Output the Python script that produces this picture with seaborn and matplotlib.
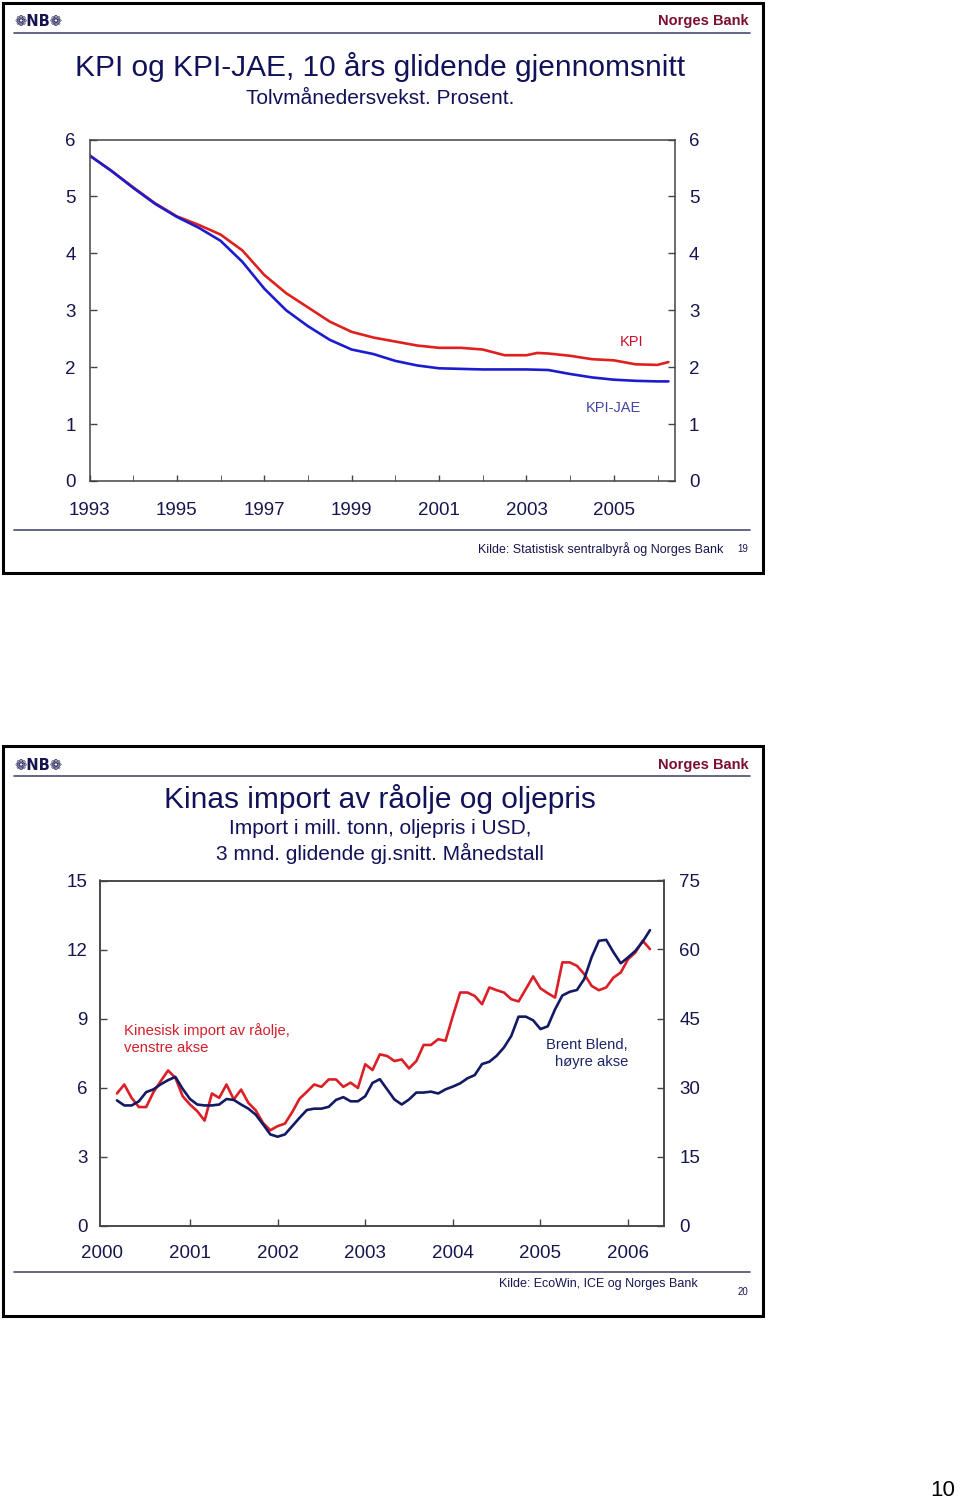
import numpy as np
import pandas as pd
import matplotlib
matplotlib.use("Agg")
import matplotlib.pyplot as plt
from matplotlib.patches import Rectangle
from matplotlib.lines import Line2D
import seaborn as sns

# ---------------- data: slide 19 (KPI, 10-yr moving average) ----------------
kpi_years = [1993.0, 1993.5, 1994.0, 1994.5, 1995.0, 1995.5, 1996.0, 1996.5, 1997.0,
             1997.5, 1998.0, 1998.5, 1999.0, 1999.5, 2000.0, 2000.5, 2001.0, 2001.5,
             2002.0, 2002.5, 2003.0, 2003.25, 2003.5, 2004.0, 2004.5, 2005.0, 2005.5,
             2006.0, 2006.25]
kpi_values = [5.72, 5.45, 5.16, 4.88, 4.65, 4.50, 4.33, 4.05, 3.62,
              3.30, 3.05, 2.80, 2.62, 2.52, 2.45, 2.38, 2.34, 2.34,
              2.31, 2.21, 2.21, 2.25, 2.24, 2.20, 2.14, 2.12, 2.05,
              2.04, 2.09]
jae_years = [1993.0, 1993.5, 1994.0, 1994.5, 1995.0, 1995.5, 1996.0, 1996.5, 1997.0,
             1997.5, 1998.0, 1998.5, 1999.0, 1999.5, 2000.0, 2000.5, 2001.0, 2001.5,
             2002.0, 2002.5, 2003.0, 2003.5, 2004.0, 2004.5, 2005.0, 2005.5,
             2006.0, 2006.25]
jae_values = [5.72, 5.45, 5.15, 4.87, 4.64, 4.45, 4.22, 3.85, 3.38,
              3.00, 2.72, 2.48, 2.31, 2.23, 2.11, 2.03, 1.98, 1.97,
              1.96, 1.96, 1.96, 1.95, 1.88, 1.82, 1.78, 1.76,
              1.75, 1.75]
kpi_year_labels = ["1993", "1995", "1997", "1999", "2001", "2003", "2005"]

# ---------------- data: slide 20 (China crude imports, Brent) ----------------
month_start, month_end = "2000-03", "2006-04"
import_values = [5.74, 6.13, 5.55, 5.15, 5.15, 5.80, 6.28, 6.74, 6.42, 5.62,
                 5.26, 4.97, 4.56, 5.74, 5.55, 6.13, 5.48, 5.91, 5.33, 5.01,
                 4.46, 4.14, 4.32, 4.43, 4.93, 5.51, 5.81, 6.13, 6.03, 6.35,
                 6.35, 6.03, 6.21, 5.98, 7.01, 6.76, 7.44, 7.37, 7.15, 7.22,
                 6.83, 7.15, 7.85, 7.85, 8.10, 8.03, 9.11, 10.13, 10.13, 9.98,
                 9.62, 10.35, 10.23, 10.13, 9.84, 9.74, 10.28, 10.83, 10.31, 10.10,
                 9.91, 11.44, 11.44, 11.29, 10.93, 10.42, 10.23, 10.35, 10.78, 11.00,
                 11.58, 11.87, 12.38, 12.02]
brent_values = [27.2, 26.1, 26.1, 27.0, 29.0, 29.6, 30.7, 31.6, 32.3, 29.7,
                27.5, 26.3, 26.1, 26.1, 26.3, 27.5, 27.3, 26.3, 25.4, 24.1,
                22.0, 19.8, 19.3, 19.8, 21.6, 23.4, 25.1, 25.4, 25.4, 25.8,
                27.3, 27.9, 27.0, 27.0, 28.1, 31.0, 31.8, 29.6, 27.4, 26.3,
                27.4, 28.9, 28.9, 29.1, 28.7, 29.6, 30.2, 30.9, 32.0, 32.7,
                35.1, 35.6, 36.9, 38.7, 41.2, 45.4, 45.4, 44.6, 42.7, 43.3,
                47.0, 50.0, 50.8, 51.2, 53.6, 58.3, 61.9, 62.1, 59.4, 57.0,
                58.3, 59.7, 61.7, 64.2]
oil_year_labels = ["2000", "2001", "2002", "2003", "2004", "2005", "2006"]

# ---------------- style ----------------
sns.set_style("white")
plt.rcParams["font.family"] = ["Liberation Sans", "DejaVu Sans"]

W, H = 960, 1501
NAVY = "#12125a"
TXT = "#16164f"
SPINE = "#444444"

fig = plt.figure(figsize=(W / 100, H / 100), dpi=100)


def fx(px):
    return px / W


def fy(py):
    return 1 - py / H


def add_axes_px(left, top, right, bottom):
    return fig.add_axes([fx(left), fy(bottom), (right - left) / W, (bottom - top) / H])


def style_axes(ax):
    for s in ax.spines.values():
        s.set_visible(True)
        s.set_color(SPINE)
        s.set_linewidth(1.1)
    ax.tick_params(direction="in", length=5, width=1.0, color=SPINE,
                   labelcolor=TXT, labelsize=13.5)


# ---------------- slide frames & decorations ----------------
def slide_frame(top, bottom, rule_top, rule_bottom):
    fig.patches.append(Rectangle((fx(2.5), fy(bottom)), (763 - 2.5) / W, (bottom - top) / H,
                                 transform=fig.transFigure, fill=False,
                                 edgecolor="black", linewidth=2.2))
    for ry in (rule_top, rule_bottom):
        fig.lines.append(Line2D([fx(14), fx(750)], [fy(ry), fy(ry)],
                                transform=fig.transFigure, color="#4a4a72", linewidth=1.2))


slide_frame(2.5, 573, 33, 530)
slide_frame(745.5, 1316, 776, 1272)

for hy in (21, 765):
    fig.text(fx(14), fy(hy), "\u2741NB\u2741", ha="left", va="center", fontsize=10.5,
             fontweight="bold", color=TXT, family=["DejaVu Sans"])
    fig.text(fx(749), fy(hy), "Norges Bank", ha="right", va="center", fontsize=10.5,
             fontweight="bold", color="#7a0f2e")

# ---------------- slide 19 ----------------
fig.text(fx(380), fy(67.5), "KPI og KPI-JAE, 10 års glidende gjennomsnitt",
         ha="center", va="center", fontsize=21.5, color=NAVY)
fig.text(fx(380), fy(98.5), "Tolvmånedersvekst. Prosent.",
         ha="center", va="center", fontsize=15, color=NAVY)

ax1 = add_axes_px(89.5, 139.5, 675, 481)
kpi_df = pd.DataFrame({"year": kpi_years, "value": kpi_values})
jae_df = pd.DataFrame({"year": jae_years, "value": jae_values})
sns.lineplot(data=kpi_df, x="year", y="value", ax=ax1, color="#e0201e", linewidth=1.9)
sns.lineplot(data=jae_df, x="year", y="value", ax=ax1, color="#1c1ccf", linewidth=1.9)
ax1.set_xlim(1993, 2006.4)
ax1.set_ylim(0, 6)
ax1.set_xlabel("")
ax1.set_ylabel("")
style_axes(ax1)
ax1.set_yticks(range(0, 7))
ax1.set_yticklabels([str(v) for v in range(0, 7)])
ax1.tick_params(axis="y", left=True, right=True, labelleft=True, labelright=True, pad=10)
ax1.set_xticks([int(y) for y in kpi_year_labels])
ax1.set_xticklabels(kpi_year_labels)
ax1.set_xticks(range(1993, 2007), minor=True)
ax1.tick_params(axis="x", which="both", bottom=True, pad=15, length=4,
                direction="in", color=SPINE)
ax1.text(2005.4, 2.45, "KPI", ha="center", va="center", fontsize=10.5, color="#c8102a")
ax1.text(2005.0, 1.28, "KPI-JAE", ha="center", va="center", fontsize=10.5, color="#4545a5")

fig.text(fx(723), fy(549), "Kilde: Statistisk sentralbyrå og Norges Bank",
         ha="right", va="center", fontsize=9, color=TXT)
fig.text(fx(743), fy(549), "19", ha="center", va="center", fontsize=7, color=TXT)

# ---------------- slide 20 ----------------
fig.text(fx(380), fy(798.5), "Kinas import av råolje og oljepris",
         ha="center", va="center", fontsize=21.5, color=NAVY)
fig.text(fx(380), fy(828), "Import i mill. tonn, oljepris i USD,",
         ha="center", va="center", fontsize=15, color=NAVY)
fig.text(fx(380), fy(853), "3 mnd. glidende gj.snitt. Månedstall",
         ha="center", va="center", fontsize=15, color=NAVY)

months = pd.period_range(month_start, month_end, freq="M")
month_x = months.year + (months.month - 1) / 12.0
oil_df = pd.DataFrame({"x": month_x, "imp": import_values, "brent": brent_values})

ax2 = add_axes_px(100, 880.5, 664, 1225.5)
sns.lineplot(data=oil_df, x="x", y="imp", ax=ax2, color="#dc1f26", linewidth=1.9)
ax2.set_xlim(1999.973, 2006.41)
ax2.set_ylim(0, 15)
ax2.set_xlabel("")
ax2.set_ylabel("")
style_axes(ax2)
ax2.set_yticks(range(0, 16, 3))
ax2.tick_params(axis="y", left=True, pad=9)
ax2.set_xticks([int(y) for y in oil_year_labels])
ax2.set_xticklabels(oil_year_labels)
ax2.tick_params(axis="x", bottom=True, pad=14, length=5, direction="in", color=SPINE)

ax2b = ax2.twinx()
sns.lineplot(data=oil_df, x="x", y="brent", ax=ax2b, color="#131a63", linewidth=1.9)
ax2b.set_ylim(0, 75)
ax2b.set_ylabel("")
style_axes(ax2b)
ax2b.set_yticks(range(0, 76, 15))
ax2b.tick_params(axis="y", right=True, pad=11)
ax2b.set_xlim(1999.973, 2006.41)

ax2.text(2000.245, 8.1, "Kinesisk import av råolje,\nvenstre akse", ha="left", va="center",
         fontsize=10.7, color="#d41f2a", linespacing=1.3)
ax2b.text(2006.0, 37.4, "Brent Blend,\nhøyre akse", ha="right", va="center",
          fontsize=10.6, color="#1c2466", linespacing=1.3, multialignment="right")

fig.text(fx(698), fy(1284), "Kilde: EcoWin, ICE og Norges Bank",
         ha="right", va="center", fontsize=9, color=TXT)
fig.text(fx(743), fy(1292), "20", ha="center", va="center", fontsize=7, color=TXT)

fig.text(fx(943), fy(1490), "10", ha="center", va="center", fontsize=16, color="black")

# hide the 2000 tick mark that would sit next to the left frame line
fig.canvas.draw()
ax2.xaxis.get_major_ticks()[0].tick1line.set_visible(False)

fig.savefig("out.png", dpi=100)
